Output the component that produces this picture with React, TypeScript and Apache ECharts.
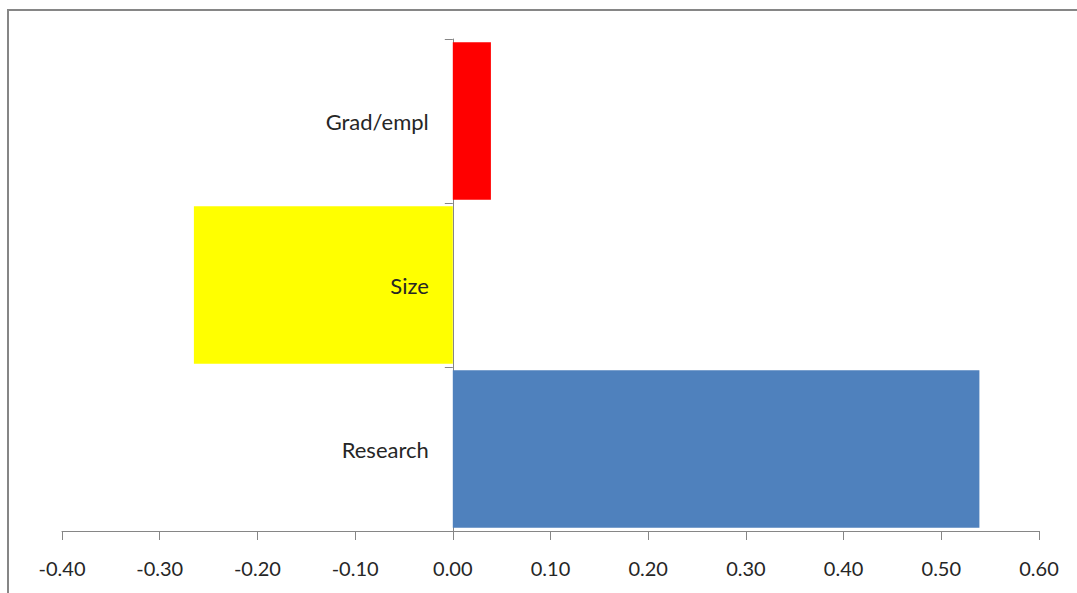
import React, { useEffect, useRef } from "react";
import * as echarts from "echarts";

const categories = ["Research", "Size", "Grad/empl"];
const values = [0.539, -0.265, 0.039];
const barColors = ["#4F81BD", "#FFFF00", "#FF0000"];
const xMin = -0.4;
const xMax = 0.6;
const xInterval = 0.1;

export default function App() {
  const ref = useRef<HTMLDivElement>(null);
  useEffect(() => {
    if (!ref.current) return;
    const chart = echarts.init(ref.current, null, { renderer: "svg" });
    chart.setOption({
      animation: false,
      backgroundColor: "#ffffff",
      textStyle: { fontFamily: "Lato" },
      graphic: [
        {
          type: "rect",
          shape: { x: 8, y: 10, width: 1200, height: 800 },
          style: { fill: "none", stroke: "#868686", lineWidth: 2 },
          silent: true,
        },
      ],
      grid: {
        left: 62,
        right: 38,
        top: 39,
        bottom: 62,
        containLabel: false,
        outerBoundsMode: "none",
      },
      xAxis: {
        type: "value",
        min: xMin,
        max: xMax,
        interval: xInterval,
        splitLine: { show: false },
        axisLine: { show: true, onZero: false, lineStyle: { color: "#868686", width: 1 } },
        axisTick: { show: true, length: 9, lineStyle: { color: "#868686" } },
        axisLabel: {
          margin: 27,
          fontSize: 20,
          color: "#262626",
          fontFamily: "Lato",
          formatter: (v: number) => v.toFixed(2),
        },
      },
      yAxis: {
        type: "category",
        data: categories,
        axisLine: { show: true, onZero: true, lineStyle: { color: "#868686", width: 1 } },
        axisTick: { show: true, length: 8, lineStyle: { color: "#868686" } },
        axisLabel: { show: false },
      },
      series: [
        {
          type: "bar",
          barCategoryGap: "4%",
          data: values.map((v, i) => ({ value: v, itemStyle: { color: barColors[i] } })),
        },
        {
          type: "bar",
          barGap: "-100%",
          barCategoryGap: "4%",
          data: categories.map(() => 0),
          itemStyle: { color: "transparent" },
          silent: true,
          z: 5,
          label: {
            show: true,
            position: "left",
            distance: 24,
            fontSize: 22,
            color: "#262626",
            fontFamily: "Lato",
            formatter: (p: any) => p.name,
          },
        },
      ],
    });
    return () => chart.dispose();
  }, []);
  return (
    <div
      ref={ref}
      style={{ position: "absolute", left: 0, top: 0, width: 1077, height: 593 }}
    />
  );
}
